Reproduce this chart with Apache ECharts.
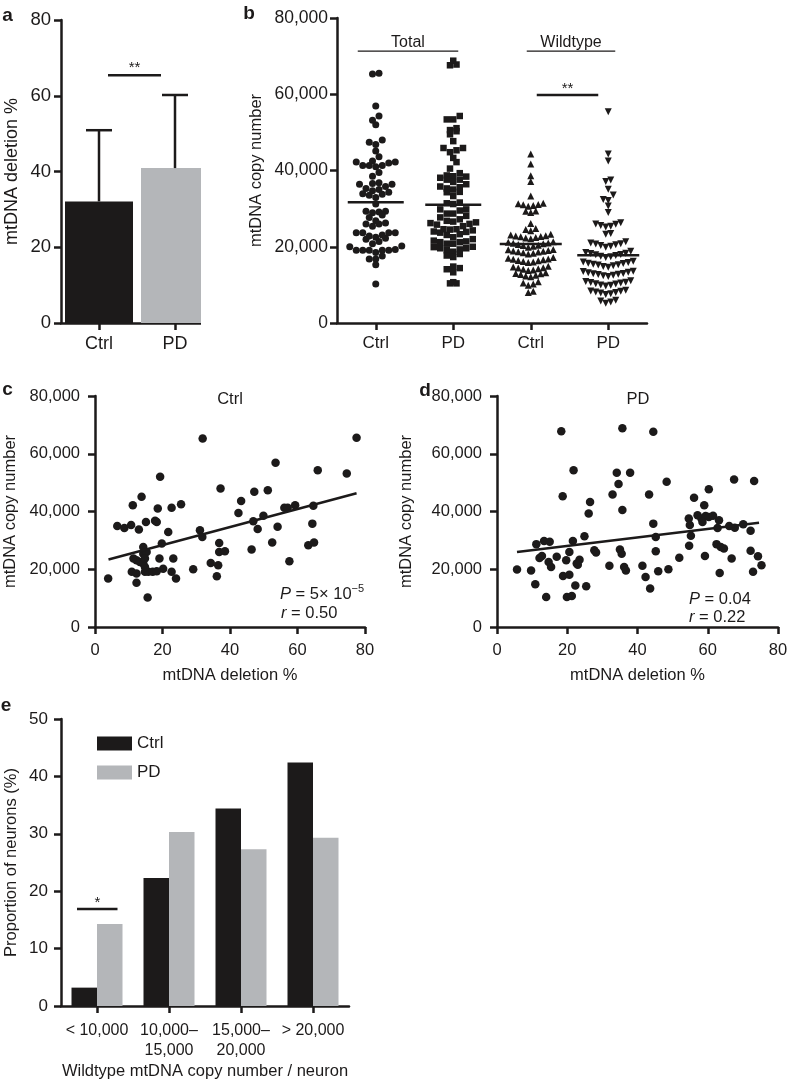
<!DOCTYPE html>
<html>
<head>
<meta charset="utf-8">
<title>mtDNA deletion and copy number</title>
<script src="https://cdn.jsdelivr.net/npm/echarts@6.0.0/dist/echarts.min.js"></script>
<style>
html, body { margin:0; padding:0; background:#ffffff; }
#chart { width:788px; height:1080px; }
</style>
</head>
<body>
<div id="chart"></div>
<script>
// ================= DATA =================
// Panel a
const groupsA = ['Ctrl', 'PD'];
const deletionMean = [32.1, 40.9];
const deletionUpper = [50.9, 60.2];
const sigA = 65.4;

// Panel b
const groupsB = ['Ctrl', 'PD', 'Ctrl', 'PD'];
const bHeaders = ['Total', 'Wildtype'];
const bMeans = [31700, 31000, 20700, 17800];
const bHeaderLevel = 71300;
const sigB = 59800;

// Panel c (Ctrl neurons): deletion % vs total copy number (also panel b "Total Ctrl")
const ctrlDeletion = [3.9,6.6,8.7,10.7,11.2,13.0,13.8,15.1,17.8,18.3,18.6,19.3,21.7,22.7,25.5,31.9,31.1,31.8,37.2,36.8,36.8,38.5,34.3,36.5,36.1,29.1,23.2,22.7,24.0,19.8,19.1,20.2,14.3,14.3,15.3,11.4,12.3,13.3,14.3,14.8,10.9,12.3,12.3,14.8,15.8,17.1,18.3,15.6,14.8,53.5,66.0,74.6,77.5,47.2,51.2,43.3,42.5,56.1,57.1,59.3,64.7,49.9,46.9,48.2,54.1,64.4,46.4,52.5,63.2,64.9,57.6];
const ctrlCopyNumber = [16800,35000,34300,35300,42200,33800,45100,36400,36800,36400,41000,52000,32900,41300,42500,65300,33500,31200,48000,29100,26000,26200,22200,21400,17600,20000,23700,19100,16800,28900,23700,20200,27700,25400,26000,23700,23100,22500,22000,23700,19100,18500,15300,19100,19100,19100,19300,10200,20800,56900,54300,53200,65500,46800,47400,43600,39500,41300,41300,42200,42000,38500,36600,33900,34700,35800,26800,29300,28300,29300,22800];

// Panel d (PD neurons): deletion % vs total copy number (also panel b "Total PD")
const pdDeletion = [5.7,9.7,10.9,14.0,11.2,13.4,15.0,12.1,12.8,14.7,15.4,17.0,18.3,18.7,18.8,20.6,19.7,20.6,19.9,21.3,21.8,21.6,22.3,22.7,23.5,23.0,24.9,25.4,26.1,26.5,27.7,28.2,32.0,32.9,34.1,34.6,35.7,35.7,37.9,35.0,35.5,36.2,36.7,41.4,44.5,48.3,43.3,44.5,45.2,45.2,42.3,43.6,45.9,48.8,51.9,54.7,55.2,54.6,54.9,56.1,57.1,59.0,60.3,58.2,59.4,60.3,61.5,58.5,63.2,62.8,59.2,62.5,63.7,64.6,63.4,66.1,67.7,70.1,67.5,73.2,66.8,72.2,72.2,74.3,75.3,72.9];
const pdCopyNumber = [19900,19600,14800,10400,28700,29800,29500,23900,24600,22500,20800,24300,67800,45300,17700,18100,23100,26000,10400,10700,54300,29800,14400,22000,23300,21600,31400,14100,39300,43300,26600,25800,21200,45900,53400,49500,68800,40500,53400,26800,25400,20800,19600,21200,67600,50300,45900,35800,31200,26200,17300,13300,19300,20000,24000,28100,31600,37600,35300,44800,38700,42200,47700,37600,38400,38100,38500,36400,37000,34300,24600,28700,27700,27200,18700,35000,34400,35600,51100,50600,23700,33300,26400,24500,21400,19100];

// Panel b wildtype copy numbers
const ctrlWildtype = [44300,41700,38600,37100,33300,
  31300,31000,30800,31400,30600,31100,
  29300,29000,29400,26100,24500,24200,24800,
  22900,22300,22600,23100,22100,22800,23300,22400,22700,
  20100,20400,20900,21200,19900,20600,21000,20300,20800,21300,
  18300,18600,18900,19200,18100,18800,19000,18400,18700,19300,
  16100,16400,16800,17000,15900,16600,16300,17200,16700,16000,
  14100,14400,14700,13900,14500,14200,14900,13800,
  12300,12700,13000,12100,12500,12900,13200,
  10200,9900,10500,10800,8300,8000];
const pdWildtype = [55400,44300,42500,37500,37100,35100,33600,32400,32100,30700,29000,
  25600,26000,25400,26300,25200,25900,23500,23300,
  20300,20700,21000,20100,20500,21300,19900,20800,
  17500,17900,18200,18500,17200,17700,18000,18800,17400,18300,
  15000,15300,15600,15900,16200,14800,15400,15700,16000,14600,15200,
  12400,12700,13000,13300,13600,12200,12900,13200,12500,13500,12800,
  10000,10300,10600,10900,9700,10200,10500,11100,9900,10700,
  7700,8000,8300,8600,7500,8100,8400,7900,
  5500,5800,5200,6000];

// Regression fits (endpoints)
const ctrlFit = [[4.0, 23400], [77.5, 46300]];
const pdFit = [[5.7, 26000], [74.6, 36100]];

// Panel e
const eCategories = ['< 10,000', '10,000–\n15,000', '15,000–\n20,000', '> 20,000'];
const eCtrl = [3.2, 22.3, 34.4, 42.4];
const ePD = [14.3, 30.3, 27.3, 29.3];
const sigE = 16.9;

// ================= STYLE =================
const font = "'Liberation Sans', Arial, Helvetica, sans-serif";
const ink = '#1c1a1a';
const grey = '#b4b6b9';
const AXW = 2.5;
const ls = () => ({ color: ink, width: AXW });
const commas = v => String(v).replace(/\B(?=(\d{3})+(?!\d))/g, ',');

function yAxisV(gridIndex, max, interval, name, nameGap, labelSize, nameSize, margin) {
  return {
    gridIndex, type: 'value', min: 0, max, interval,
    axisLine: { show: true, onZero: false, lineStyle: ls() },
    axisTick: { show: true, length: 7, lineStyle: ls() },
    splitLine: { show: false },
    axisLabel: { margin, fontSize: labelSize, color: ink, fontFamily: font, showMinLabel: true, showMaxLabel: true, formatter: v => commas(v) },
    name, nameLocation: 'middle', nameGap, nameRotate: 90, nameMoveOverlap: false,
    nameTextStyle: { fontSize: nameSize, color: ink, fontFamily: font }
  };
}
function xAxisCat(gridIndex, data, labelSize, margin, extra, labelExtra) {
  return Object.assign({
    gridIndex, type: 'category', data, position: 'bottom',
    axisLine: { show: true, onZero: false, lineStyle: ls() },
    axisTick: { show: true, alignWithLabel: true, length: 7, lineStyle: ls() },
    axisLabel: Object.assign({ margin, fontSize: labelSize, color: ink, fontFamily: font, interval: 0 }, labelExtra || {}),
    splitLine: { show: false }
  }, extra || {});
}
function xAxisDel(gridIndex, margin) {
  return {
    gridIndex, type: 'value', min: 0, max: 80, interval: 20, position: 'bottom',
    axisLine: { show: true, onZero: false, lineStyle: ls() },
    axisTick: { show: true, length: 7, lineStyle: ls() },
    splitLine: { show: false },
    axisLabel: { margin, fontSize: 16.5, color: ink, fontFamily: font, showMinLabel: true, showMaxLabel: true },
    name: 'mtDNA deletion %', nameLocation: 'middle', nameGap: 40, nameMoveOverlap: false,
    nameTextStyle: { fontSize: 16.5, color: ink, fontFamily: font }
  };
}

// beeswarm layout (GraphPad-like rows)
const B_WIDTH = 310, B_UNITS = 4;
function swarm(values, center, binSize, binStart, stepPx) {
  const pxPerUnit = B_WIDTH / B_UNITS;
  const bins = new Map();
  values.forEach(v => {
    const k = Math.floor((v - binStart) / binSize);
    if (!bins.has(k)) bins.set(k, []);
    bins.get(k).push(v);
  });
  const out = [];
  bins.forEach(arr => {
    arr.sort((a, b) => a - b);
    const n = arr.length;
    const slots = [];
    for (let j = 0; j < n; j++) slots.push(j - (n - 1) / 2);
    slots.sort((a, b) => Math.abs(a) - Math.abs(b) || a - b);
    arr.forEach((v, i) => out.push([center + slots[i] * stepPx / pxPerUnit, v]));
  });
  return out;
}

const chart = echarts.init(document.getElementById('chart'), null, { renderer: 'canvas', width: 788, height: 1080 });
const solid = { color: ink, opacity: 1 };

const option = {
  animation: false,
  backgroundColor: '#ffffff',
  textStyle: { fontFamily: font, color: ink },
  grid: [
    { left: 61, top: 20, width: 152, height: 303, containLabel: false, outerBoundsMode: 'none' },
    { left: 337, top: 18, width: B_WIDTH, height: 305, containLabel: false, outerBoundsMode: 'none' },
    { left: 95, top: 396, width: 270, height: 231, containLabel: false, outerBoundsMode: 'none' },
    { left: 497, top: 396, width: 281, height: 231, containLabel: false, outerBoundsMode: 'none' },
    { left: 61, top: 719, width: 288, height: 287, containLabel: false, outerBoundsMode: 'none' }
  ],
  legend: {
    data: ['Ctrl', 'PD'], orient: 'vertical', left: 97, top: 735, padding: 0,
    itemWidth: 35, itemHeight: 14, itemGap: 12, icon: 'rect', selectedMode: false,
    textStyle: { fontSize: 17, color: ink, fontFamily: font }
  },
  xAxis: [
    xAxisCat(0, groupsA, 18, 12),
    xAxisCat(1, groupsB, 17, 12),
    { gridIndex: 1, type: 'value', min: -0.5, max: 3.5, show: false, position: 'bottom' },
    xAxisDel(2, 15),
    xAxisDel(3, 15),
    xAxisCat(4, eCategories, 16, 15, {
      name: 'Wildtype mtDNA copy number / neuron', nameLocation: 'middle', nameGap: 57, nameMoveOverlap: false,
      nameTextStyle: { fontSize: 16.5, color: ink, fontFamily: font }
    }, { lineHeight: 20 })
  ],
  yAxis: [
    yAxisV(0, 80, 20, 'mtDNA deletion %', 40, 18.5, 18, 10),
    yAxisV(1, 80000, 20000, 'mtDNA copy number', 72, 17.5, 16.5, 9),
    yAxisV(2, 80000, 20000, 'mtDNA copy number', 76, 16.5, 16.5, 15),
    yAxisV(3, 80000, 20000, 'mtDNA copy number', 82, 16.5, 16.5, 15),
    yAxisV(4, 50, 10, 'Proportion of neurons (%)', 41, 17, 16.5, 13)
  ],
  series: [
    // a: bars
    {
      name: 'a-bars', type: 'bar', xAxisIndex: 0, yAxisIndex: 0, barWidth: 68, silent: true,
      data: deletionMean.map((v, i) => ({ value: v, itemStyle: { color: i === 0 ? ink : grey, opacity: 1 } }))
    },
    // a: error bars (upper SD)
    {
      name: 'a-err', type: 'custom', xAxisIndex: 0, yAxisIndex: 0, silent: true, z: 4,
      data: deletionMean.map((m, i) => [i, m, deletionUpper[i]]),
      renderItem: (params, api) => {
        const p0 = api.coord([api.value(0), api.value(1)]);
        const p1 = api.coord([api.value(0), api.value(2)]);
        const hw = 13;
        return { type: 'group', children: [
          { type: 'line', shape: { x1: p0[0], y1: p0[1], x2: p1[0], y2: p1[1] }, style: { stroke: ink, lineWidth: 2.5 } },
          { type: 'line', shape: { x1: p1[0] - hw, y1: p1[1], x2: p1[0] + hw, y2: p1[1] }, style: { stroke: ink, lineWidth: 2.5 } }
        ] };
      }
    },
    // b: scatter dot plots
    { name: 'b-total-ctrl', type: 'scatter', xAxisIndex: 2, yAxisIndex: 1, silent: true, symbol: 'circle', symbolSize: 7,
      itemStyle: solid, data: swarm(ctrlCopyNumber, 0, 2000, 500, 6.5) },
    { name: 'b-total-pd', type: 'scatter', xAxisIndex: 2, yAxisIndex: 1, silent: true, symbol: 'rect', symbolSize: 6.5,
      itemStyle: solid, data: swarm(pdCopyNumber, 1, 2000, 500, 6.5) },
    { name: 'b-wt-ctrl', type: 'scatter', xAxisIndex: 2, yAxisIndex: 1, silent: true, symbol: 'triangle', symbolSize: 7,
      itemStyle: solid, data: swarm(ctrlWildtype, 2, 2000, -500, 5) },
    { name: 'b-wt-pd', type: 'scatter', xAxisIndex: 2, yAxisIndex: 1, silent: true, symbol: 'triangle', symbolSize: 7, symbolRotate: 180,
      itemStyle: solid, data: swarm(pdWildtype, 3, 2500, 4250, 5) },
    // b: mean lines
    {
      name: 'b-means', type: 'custom', xAxisIndex: 2, yAxisIndex: 1, silent: true, z: 5,
      data: bMeans.map((m, i) => [i, m]),
      renderItem: (params, api) => {
        const c = api.coord([api.value(0), api.value(1)]);
        const hw = params.dataIndex < 2 ? 28 : 31;
        return { type: 'line', shape: { x1: c[0] - hw, y1: c[1], x2: c[0] + hw, y2: c[1] }, style: { stroke: ink, lineWidth: 2.5 } };
      }
    },
    // c
    { name: 'c-points', type: 'scatter', xAxisIndex: 3, yAxisIndex: 2, silent: true, symbolSize: 8.5,
      itemStyle: solid, data: ctrlDeletion.map((d, i) => [d, ctrlCopyNumber[i]]) },
    { name: 'c-fit', type: 'line', xAxisIndex: 3, yAxisIndex: 2, silent: true, showSymbol: false, symbol: 'none',
      lineStyle: { color: ink, width: 2.5, opacity: 1 }, data: ctrlFit, z: 3 },
    // d
    { name: 'd-points', type: 'scatter', xAxisIndex: 4, yAxisIndex: 3, silent: true, symbolSize: 8.5,
      itemStyle: solid, data: pdDeletion.map((d, i) => [d, pdCopyNumber[i]]) },
    { name: 'd-fit', type: 'line', xAxisIndex: 4, yAxisIndex: 3, silent: true, showSymbol: false, symbol: 'none',
      lineStyle: { color: ink, width: 2.5, opacity: 1 }, data: pdFit, z: 3 },
    // e
    { name: 'Ctrl', type: 'bar', xAxisIndex: 5, yAxisIndex: 4, silent: true, barWidth: 25.5, barGap: '0%',
      itemStyle: { color: ink, opacity: 1 }, data: eCtrl },
    { name: 'PD', type: 'bar', xAxisIndex: 5, yAxisIndex: 4, silent: true, barWidth: 25.5, barGap: '0%',
      itemStyle: { color: grey, opacity: 1 }, data: ePD }
  ]
};

chart.setOption(option);

// ================= ANNOTATIONS =================
const px = (xi, yi, pt) => chart.convertToPixel({ xAxisIndex: xi, yAxisIndex: yi }, pt);
const T = (x, y, text, size, extra) => ({
  type: 'text', x, y, silent: true, z: 50,
  style: Object.assign({ text, fontSize: size, fontFamily: font, fill: ink,
    align: 'center', verticalAlign: 'middle', textAlign: 'center', textVerticalAlign: 'middle' }, extra || {})
});
const L = (x1, y1, x2, y2, w) => ({ type: 'line', silent: true, z: 50, shape: { x1, y1, x2, y2 }, style: { stroke: ink, lineWidth: w } });
const richStat = (x, y, text) => T(x, y, text, 16.5, {
  align: 'left', textAlign: 'left', lineHeight: 22,
  rich: {
    i: { fontStyle: 'italic', fontSize: 16.5, fontFamily: font, fill: ink, lineHeight: 22 },
    s: { fontSize: 11, fontFamily: font, fill: ink, verticalAlign: 'top', lineHeight: 11 }
  }
});

const g = [];
// crop of panel a at the panel border
g.push({ type: 'rect', silent: true, z: 40, shape: { x: 201, y: 80, width: 14, height: 252 }, style: { fill: '#ffffff' } });

// panel letters
g.push(T(7.5, 16, 'a', 19, { fontWeight: 'bold' }));
g.push(T(249, 14, 'b', 19, { fontWeight: 'bold' }));
g.push(T(7.5, 390, 'c', 19, { fontWeight: 'bold' }));
g.push(T(425, 391, 'd', 19, { fontWeight: 'bold' }));
g.push(T(6, 706, 'e', 19, { fontWeight: 'bold' }));

// a: significance
{
  const l = px(0, 0, [0, sigA]), r = px(0, 0, [1, sigA]);
  g.push(L(l[0] + 9, l[1], r[0] - 14, r[1], 2.5));
  g.push(T((l[0] + 9 + r[0] - 14) / 2, l[1] - 7, '**', 15));
}
// b: group headers and significance
{
  const c0 = px(2, 1, [0, bHeaderLevel]), c1 = px(2, 1, [1, bHeaderLevel]);
  const c2 = px(2, 1, [2, bHeaderLevel]), c3 = px(2, 1, [3, bHeaderLevel]);
  g.push(L(c0[0] - 18, c0[1], c1[0] + 5, c0[1], 1.3));
  g.push(T((c0[0] - 18 + c1[0] + 5) / 2, c0[1] - 9, bHeaders[0], 16));
  g.push(L(c2[0] - 4, c2[1], c3[0] + 7, c2[1], 1.3));
  g.push(T((c2[0] - 4 + c3[0] + 7) / 2, c2[1] - 9, bHeaders[1], 16));
  const s2 = px(2, 1, [2, sigB]), s3 = px(2, 1, [3, sigB]);
  g.push(L(s2[0] + 6, s2[1], s3[0] - 10, s3[1], 2.5));
  g.push(T((s2[0] + 6 + s3[0] - 10) / 2, s2[1] - 6, '**', 15));
}
// c / d titles and statistics
g.push(T(230, 399, 'Ctrl', 16.5));
g.push(T(638, 399, 'PD', 16.5));
g.push(richStat(280, 594, '{i|P} = 5× 10{s|−5}'));
g.push(richStat(281, 613, '{i|r} = 0.50'));
g.push(richStat(689, 599, '{i|P} = 0.04'));
g.push(richStat(689, 617, '{i|r} = 0.22'));
// e: significance
{
  const c = px(5, 4, [0, sigE]);
  g.push(L(c[0] - 20, c[1], c[0] + 20.5, c[1], 2.5));
  g.push(T(c[0] + 0.5, c[1] - 6, '*', 15));
}

chart.setOption({ graphic: { elements: g } });
</script>
</body>
</html>
